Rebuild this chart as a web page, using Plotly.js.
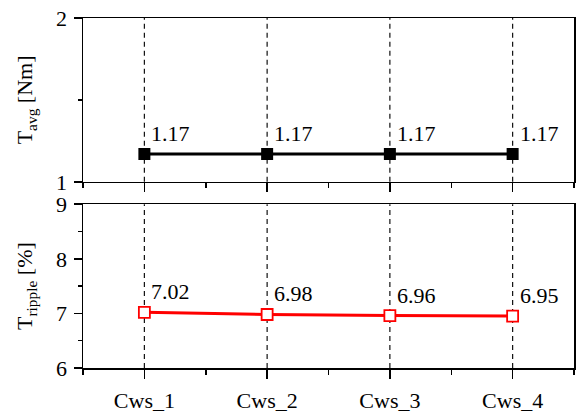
<!DOCTYPE html>
<html>
<head>
<meta charset="utf-8">
<script src="https://cdn.plot.ly/plotly-3.0.1.min.js"></script>
<style>html,body{margin:0;padding:0;background:#fff;}#chart{width:576px;height:415px;}</style>
</head>
<body>
<div id="chart"></div>
<script>
const categories = ["Cws_1", "Cws_2", "Cws_3", "Cws_4"];
const tAvg = [1.17, 1.17, 1.17, 1.17];
const tRipple = [7.02, 6.98, 6.96, 6.95];
const tAvgLabels = ["1.17", "1.17", "1.17", "1.17"];
const tRippleLabels = ["7.02", "6.98", "6.96", "6.95"];

const xIdx = categories.map((c, i) => i);
const FONT = "Liberation Serif";
const FS = 22;

const traces = [
  {
    x: xIdx, y: tAvg, xaxis: "x", yaxis: "y", type: "scatter", mode: "lines+markers",
    line: {color: "#000", width: 3},
    marker: {symbol: "square", size: 12, color: "#000"},
    hoverinfo: "skip"
  },
  {
    x: xIdx, y: tRipple, xaxis: "x2", yaxis: "y2", type: "scatter", mode: "lines+markers",
    line: {color: "#ff0000", width: 3},
    marker: {symbol: "square", size: 11, color: "#fff", line: {color: "#ff0000", width: 1.8}},
    hoverinfo: "skip"
  }
];

const annotations = [];
xIdx.forEach((xi, i) => {
  annotations.push({x: xi, y: tAvg[i], xref: "x", yref: "y", text: tAvgLabels[i],
    showarrow: false, xanchor: "left", yanchor: "bottom", xshift: 5, yshift: 6,
    font: {family: FONT, size: FS, color: "#000"}});
  annotations.push({x: xi, y: tRipple[i], xref: "x2", yref: "y2", text: tRippleLabels[i],
    showarrow: false, xanchor: "left", yanchor: "bottom", xshift: 5, yshift: 6,
    font: {family: FONT, size: FS, color: "#000"}});
});

const shapes = [];
xIdx.forEach(xi => {
  shapes.push({type: "line", xref: "x", yref: "y domain", x0: xi, x1: xi, y0: 0, y1: 1,
    line: {color: "#111", width: 1.2, dash: "5px,4px"}, layer: "below"});
  shapes.push({type: "line", xref: "x2", yref: "y2 domain", x0: xi, x1: xi, y0: 0, y1: 1,
    line: {color: "#111", width: 1.2, dash: "5px,4px"}, layer: "below"});
});

const minorX = {tickmode: "array", tickvals: [-0.5, 0.5, 1.5, 2.5, 3.5], ticklen: 5, tickwidth: 1.5, tickcolor: "#000", ticks: "outside"};

const xBase = {
  range: [-0.5, 3.5], tickmode: "array", tickvals: xIdx,
  showline: true, linecolor: "#000", linewidth: 1.5, mirror: true,
  ticks: "outside", ticklen: 9, tickwidth: 1.5, tickcolor: "#000",
  showgrid: false, zeroline: false, fixedrange: true,
  tickfont: {family: FONT, size: FS, color: "#000"},
  minor: minorX
};

const layout = {
  width: 576, height: 415,
  margin: {l: 83, r: 2, t: 18, b: 47},
  paper_bgcolor: "#fff", plot_bgcolor: "#fff",
  showlegend: false,
  font: {family: FONT, size: FS, color: "#000"},
  xaxis: Object.assign({}, xBase, {anchor: "y", ticktext: categories.map(() => ""), showticklabels: false}),
  xaxis2: Object.assign({}, xBase, {anchor: "y2", ticktext: categories, ticklabelstandoff: 3}),
  yaxis: {
    domain: [0.532, 1], anchor: "x", range: [1, 2], tickmode: "array", tickvals: [1, 2],
    showline: true, linecolor: "#000", linewidth: 1.5, mirror: true,
    ticks: "outside", ticklen: 8, tickwidth: 1.5, tickcolor: "#000",
    showgrid: false, zeroline: false, ticklabelstandoff: 2,
    tickfont: {family: FONT, size: FS, color: "#000"},
    minor: {tickmode: "array", tickvals: [1.5], ticklen: 4, tickwidth: 1.5, tickcolor: "#000", ticks: "outside"},
    title: {text: "T<sub>avg</sub> [Nm]", font: {family: FONT, size: FS, color: "#000"}, standoff: 17}
  },
  yaxis2: {
    domain: [0, 0.468], anchor: "x2", range: [6, 9], tickmode: "array", tickvals: [6, 7, 8, 9],
    showline: true, linecolor: "#000", linewidth: 1.5, mirror: true,
    ticks: "outside", ticklen: 8, tickwidth: 1.5, tickcolor: "#000",
    showgrid: false, zeroline: false, ticklabelstandoff: 2,
    tickfont: {family: FONT, size: FS, color: "#000"},
    minor: {tickmode: "array", tickvals: [6.5, 7.5, 8.5], ticklen: 4, tickwidth: 1.5, tickcolor: "#000", ticks: "outside"},
    title: {text: "T<sub>ripple</sub> [%]", font: {family: FONT, size: FS, color: "#000"}, standoff: 17}
  },
  annotations: annotations,
  shapes: shapes
};

Plotly.newPlot("chart", traces, layout, {staticPlot: true, displayModeBar: false});
</script>
</body>
</html>
